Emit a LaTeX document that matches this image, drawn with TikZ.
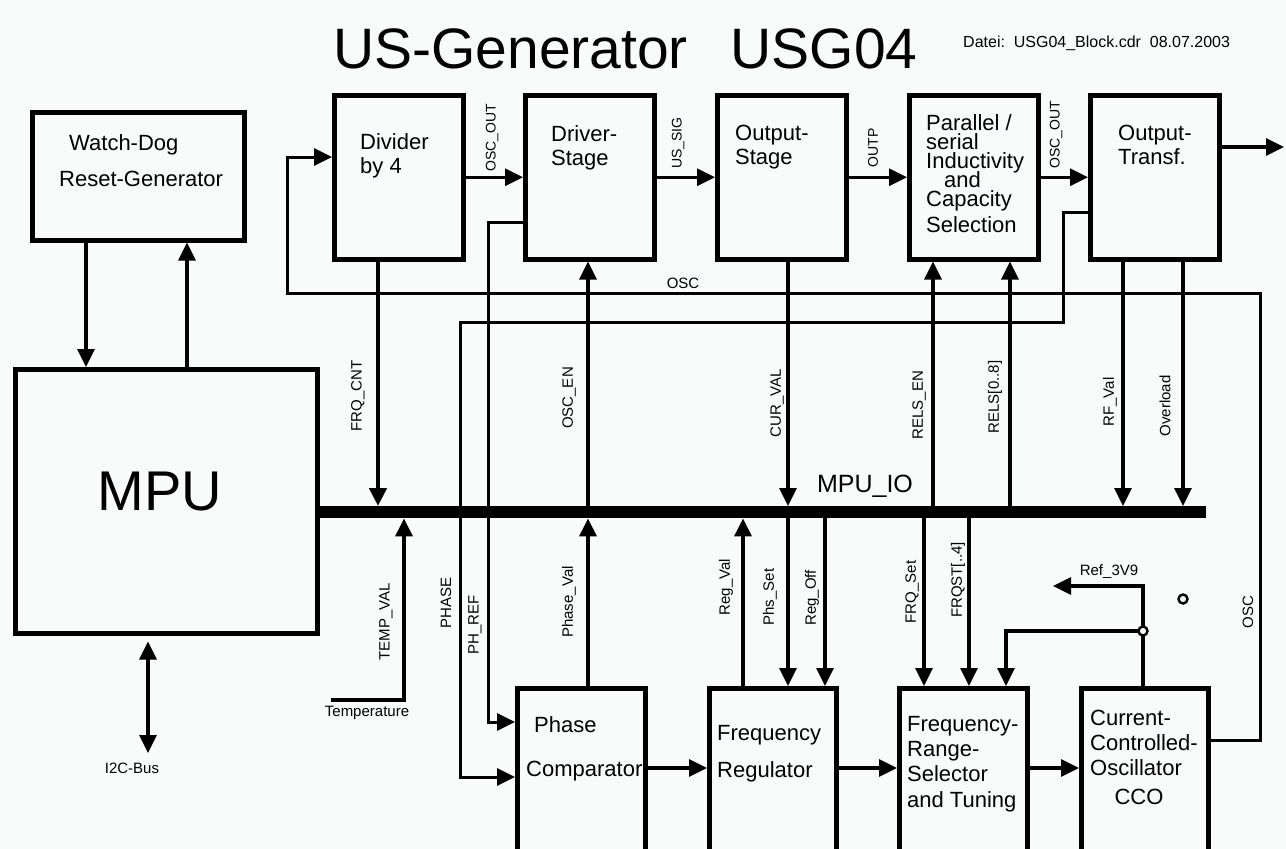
\documentclass[tikz,border=0pt]{standalone}
\usepackage{fontspec}
\setmainfont{Liberation Sans}
\usetikzlibrary{arrows.meta}
\definecolor{bgc}{RGB}{249,251,251}
\newcommand\mytightlines{\lineskiplimit=-100pt\relax\lineskip=0pt\relax}
\begin{document}
\begin{tikzpicture}[x=1pt,y=-1pt,
  blk/.style={draw, line width=4.5pt, rectangle, inner sep=0pt, anchor=north west},
  wire/.style={line width=3.3pt},
  tip/.style={-{Triangle[length=18pt,width=17pt]}},
  arr/.style={wire, tip},
  lbl/.style={font=\fontsize{15}{15}\selectfont, inner sep=0pt},
  tlbl/.style={font=\fontsize{14}{14}\selectfont, inner sep=0pt, rotate=90},
  vlbl/.style={lbl, rotate=90},
  btxt/.style={font=\fontsize{22}{24}\selectfont, align=left, anchor=north west, inner sep=0pt},
  ring/.style={circle, draw, line width=2.4pt, fill=bgc, inner sep=0pt, minimum size=9pt}
]
\useasboundingbox (0,0) rectangle (1286,849);
\fill[bgc] (0,0) rectangle (1286,849);
\clip (0,0) rectangle (1286,849);

% title
\node[font=\fontsize{57}{60}\selectfont, anchor=base west, inner sep=0pt] (title) at (333,68) {US-Generator\hspace{0.75em}USG04};
\node[font=\fontsize{16}{16}\selectfont, anchor=west, inner sep=0pt] (datei) at (963,43) {Datei:\ \ USG04\_Block.cdr\ \ 08.07.2003};

% boxes
\node[blk, minimum width=212pt, minimum height=128pt] (wd) at (30,110) {};
\node[blk, minimum width=129pt, minimum height=164pt] (div) at (332,93) {};
\node[blk, minimum width=129pt, minimum height=164pt] (drv) at (523,93) {};
\node[blk, minimum width=129pt, minimum height=164pt] (ost) at (715,93) {};
\node[blk, minimum width=129pt, minimum height=164pt] (par) at (907,93) {};
\node[blk, minimum width=129pt, minimum height=164pt] (otr) at (1088,93) {};
\node[blk, minimum width=302pt, minimum height=264pt] (mpu) at (13,367) {};
\node[blk, minimum width=128pt, minimum height=174pt] (phc) at (515,686) {};
\node[blk, minimum width=127pt, minimum height=174pt] (frg) at (707,686) {};
\node[blk, minimum width=128pt, minimum height=174pt] (frs) at (897,686) {};
\node[blk, minimum width=127pt, minimum height=174pt] (cco) at (1079,686) {};
\node[fill, inner sep=0pt, minimum width=891pt, minimum height=12pt, anchor=north west] (bus) at (315,506) {};

% box texts
\node[btxt, font=\fontsize{22}{36}\selectfont] (wdt) at (59,134) {\hspace*{10pt}Watch-Dog\\Reset-Generator};
\node[btxt] (divt) at (360,133) {Divider\\by 4};
\node[btxt] (drvt) at (551,125) {Driver-\\Stage};
\node[btxt] (ostt) at (735,125) {Output-\\Stage};
\node[btxt, font={\fontsize{22}{19.2}\selectfont\mytightlines}] (part) at (926,114) {Parallel /\\serial\\Inductivity\\\hspace*{18pt}and\\Capacity\\[6pt]Selection};
\node[btxt] (otrt) at (1118,125) {Output-\\Transf.};
\node[inner sep=0pt, font=\fontsize{56}{56}\selectfont] (mput) at (160,492) {MPU};
\node[btxt, font=\fontsize{22}{44}\selectfont] (phct) at (526,716) {\hspace*{8pt}Phase\\Comparator};
\node[btxt, font=\fontsize{22}{37}\selectfont] (frgt) at (717,725) {Frequency\\Regulator};
\node[btxt, font=\fontsize{22}{25.3}\selectfont] (frst) at (907,716) {Frequency-\\Range-\\Selector\\and Tuning};
\node[btxt, font=\fontsize{22}{25}\selectfont] (ccot) at (1090,710) {Current-\\Controlled-\\Oscillator};
\node[inner sep=0pt, font=\fontsize{22}{22}\selectfont] (ccon) at (1139,797) {CCO};

% helper coordinates
\coordinate (cA) at (86,0);
\coordinate (cB) at (187,0);
\coordinate (cI) at (148,753);
\coordinate (cFC) at (378,0);
\coordinate (cTS) at (331,700);
\coordinate (cTV) at (404,700);
\coordinate (cOE) at (588,0);
\coordinate (cRV) at (743,0);
\coordinate (cCV) at (788,0);
\coordinate (cRO) at (825,0);
\coordinate (cFS) at (924,0);
\coordinate (cRE) at (933,0);
\coordinate (cFQ) at (969,0);
\coordinate (cT3) at (1006,0);
\coordinate (cRS) at (1010,0);
\coordinate (cRF) at (1123,0);
\coordinate (cOL) at (1183,0);
\coordinate (cJ) at (1143,631);
\coordinate (cRef) at (1053,586);
\coordinate (row) at (0,768);
\coordinate (outp) at (1284,147);
\coordinate (oscA) at (1260,740);
\coordinate (oscB) at (1260,293);
\coordinate (oscC) at (287,293);
\coordinate (oscD) at (287,157);
\coordinate (phA) at (1063,212);
\coordinate (phB) at (1063,322);
\coordinate (phC) at (460,322);
\coordinate (phD) at (460,777);
\coordinate (prA) at (488,222);
\coordinate (prB) at (488,722);

% watchdog / MPU
\draw[arr] (wd.south -| cA) -- (mpu.north -| cA);
\draw[arr] (mpu.north -| cB) -- (wd.south -| cB);
\draw[wire, {Triangle[length=18pt,width=17pt]}-{Triangle[length=18pt,width=17pt]}, shorten <=6pt] (mpu.south -| cI) -- (cI);

% top chain
\draw[arr] (div.east) -- (drv.west);
\draw[arr] (drv.east) -- (ost.west);
\draw[arr] (ost.east) -- (par.west);
\draw[arr] (par.east) -- (otr.west);
\draw[arr] (otr.east |- outp) -- (outp);

% loops
\draw[arr, line width=3pt] (cco.east |- oscA) -- (oscA) -- (oscB) -- (oscC) -- (oscD) -- (div.west |- oscD);
\draw[arr, line width=3pt] (otr.west |- phA) -- (phA) -- (phB) -- (phC) -- (phD) -- (phc.west |- phD);
\draw[arr, line width=3pt] (drv.west |- prA) -- (prA) -- (prB) -- (phc.west |- prB);

% bus connections
\draw[arr, line width=4.5pt] (div.south -| cFC) -- (bus.north -| cFC);
\draw[arr] (cTS) -- (cTV) -- (bus.south -| cTV);
\draw[arr] (bus.north -| cOE) -- (drv.south -| cOE);
\draw[arr] (phc.north -| cOE) -- (bus.south -| cOE);
\draw[arr] (ost.south -| cCV) -- (bus.north -| cCV);
\draw[arr] (frg.north -| cRV) -- (bus.south -| cRV);
\draw[arr] (bus.south -| cCV) -- (frg.north -| cCV);
\draw[arr] (bus.south -| cRO) -- (frg.north -| cRO);
\draw[arr] (bus.north -| cRE) -- (par.south -| cRE);
\draw[arr] (bus.north -| cRS) -- (par.south -| cRS);
\draw[arr] (bus.south -| cFS) -- (frs.north -| cFS);
\draw[arr] (bus.south -| cFQ) -- (frs.north -| cFQ);
\draw[arr] (otr.south -| cRF) -- (bus.north -| cRF);
\draw[arr] (otr.south -| cOL) -- (bus.north -| cOL);

% bottom chain
\draw[arr] (phc.east |- row) -- (frg.west |- row);
\draw[arr] (frg.east |- row) -- (frs.west |- row);
\draw[arr] (frs.east |- row) -- (cco.west |- row);
\draw[arr] (cco.north -| cJ) |- (cRef);
\draw[arr] (cJ) -| (frs.north -| cT3);
\node[ring] (jdot) at (cJ) {};
\node[ring] (odot) at (1183,599) {};

% labels
\node[tlbl] (l1) at (492,138) {OSC\_OUT};
\node[tlbl] (l2) at (678,143) {US\_SIG};
\node[tlbl] (l3) at (873,148) {OUTP};
\node[tlbl] (l4) at (1056,135) {OSC\_OUT};
\node[lbl] (l5) at (683,283) {OSC};
\node[vlbl] (l6) at (358,396) {FRQ\_CNT};
\node[vlbl] (l7) at (569,398) {OSC\_EN};
\node[vlbl] (l8) at (777,403) {CUR\_VAL};
\node[vlbl] (l9) at (919,405) {RELS\_EN};
\node[vlbl] (l10) at (995,397) {RELS[0..8]};
\node[vlbl] (l11) at (1110,402) {RF\_Val};
\node[vlbl] (l12) at (1165,406) {Overload};
\node[lbl, font=\fontsize{25}{25}\selectfont] (lio) at (865,486) {MPU\_IO};
\node[vlbl] (l13) at (386,622) {TEMP\_VAL};
\node[vlbl] (l14) at (446,603) {PHASE};
\node[vlbl] (l15) at (475,625) {PH\_REF};
\node[vlbl] (l16) at (569,602) {Phase\_Val};
\node[vlbl] (l17) at (726,587) {Reg\_Val};
\node[vlbl] (l18) at (770,597) {Phs\_Set};
\node[vlbl] (l19) at (812,598) {Reg\_Off};
\node[vlbl] (l20) at (912,592) {FRQ\_Set};
\node[vlbl] (l21) at (958,580) {FRQST[..4]};
\node[lbl] (l22) at (1109,572) {Ref\_3V9};
\node[vlbl] (l23) at (1248,612) {OSC};
\node[lbl] (l24) at (367,713) {Temperature};
\node[lbl] (l25) at (132,768) {I2C-Bus};
\end{tikzpicture}
\end{document}
